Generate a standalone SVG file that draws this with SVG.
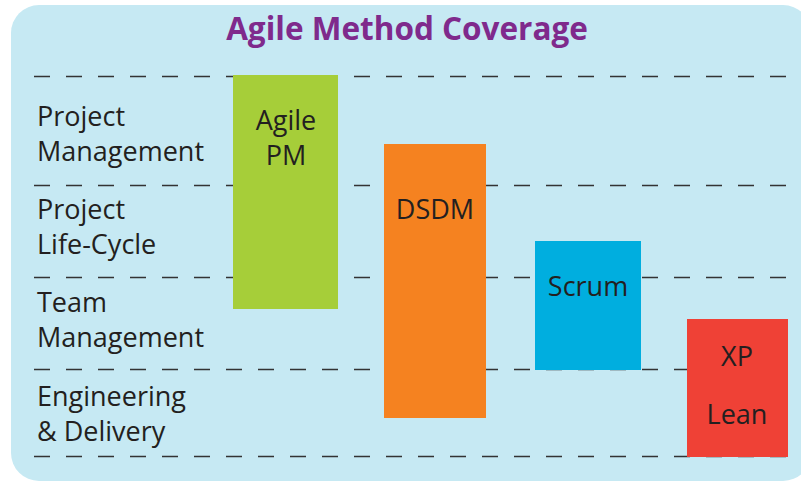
<svg xmlns="http://www.w3.org/2000/svg" width="801" height="482" viewBox="0 0 801 482">
<style>
.t{font-family:"Open Sans","Noto Sans","Liberation Sans",sans-serif;fill:#231f20;font-size:27px}
.c{text-anchor:middle}
.d{stroke:#333;stroke-width:1.5;stroke-dasharray:16 16;fill:none}
</style>
<rect x="11" y="5" width="800" height="476" rx="28" fill="#c6e9f3"/>
<text x="407" y="40" text-anchor="middle" style="font-family:'Open Sans','Noto Sans',sans-serif;font-weight:bold;font-size:31.5px;fill:#7f2a8c">Agile Method Coverage</text>
<g id="connectors">
<line class="d" x1="34" y1="76.5" x2="790" y2="76.5"/>
<line class="d" x1="34" y1="185.5" x2="790" y2="185.5"/>
<line class="d" x1="34" y1="277.5" x2="790" y2="277.5"/>
<line class="d" x1="34" y1="369.5" x2="790" y2="369.5"/>
<line class="d" x1="34" y1="456.5" x2="790" y2="456.5"/>
</g>
<g id="labels">
<text class="t" x="37" y="126">Project</text>
<text class="t" x="37" y="161">Management</text>
<text class="t" x="37" y="219">Project</text>
<text class="t" x="37" y="254">Life-Cycle</text>
<text class="t" x="37" y="312">Team</text>
<text class="t" x="37" y="347">Management</text>
<text class="t" x="37" y="406">Engineering</text>
<text class="t" x="37" y="441">&amp; Delivery</text>
</g>
<g id="agilepm">
<rect x="233" y="75" width="105" height="234" fill="#a6ce39"/>
<text class="t c" x="286" y="130">Agile</text>
<text class="t c" x="286" y="165">PM</text>
</g>
<g id="dsdm">
<rect x="384" y="144" width="102" height="274" fill="#f58220"/>
<text class="t c" x="435" y="219">DSDM</text>
</g>
<g id="scrum">
<rect x="535" y="241" width="106" height="129" fill="#00aedf"/>
<text class="t c" x="588" y="296">Scrum</text>
</g>
<g id="xplean">
<rect x="687" y="319" width="101" height="138" fill="#ef4136"/>
<text class="t c" x="737" y="366">XP</text>
<text class="t c" x="737" y="424">Lean</text>
</g>
</svg>
